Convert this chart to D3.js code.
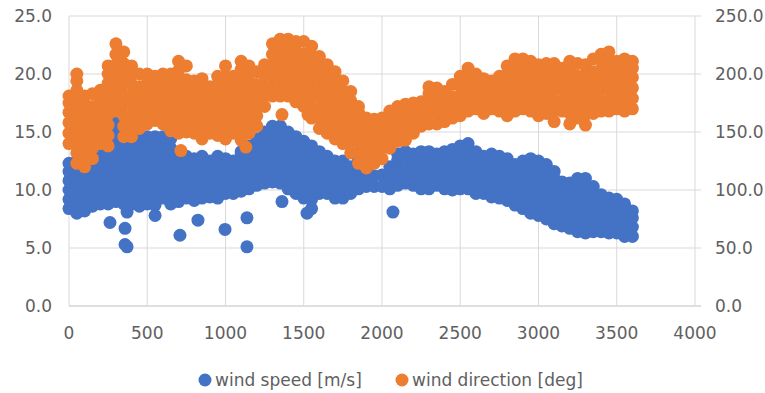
<!DOCTYPE html>
<html>
<head>
<meta charset="utf-8">
<script src="https://cdn.jsdelivr.net/npm/d3@7"></script>
<style>
  html, body { margin: 0; padding: 0; background: #ffffff; }
  svg { display: block; }
  text { font-family: "DejaVu Sans", sans-serif; font-size: 17px; fill: #606060; }
</style>
</head>
<body>
<svg id="chart" width="765" height="393"></svg>
<script>
// ---- data ----
const timeColumns = [0,50,100,150,200,250,300,350,400,450,500,550,600,650,700,750,800,850,900,950,
  1000,1050,1100,1150,1200,1250,1300,1350,1400,1450,1500,1550,1600,1650,1700,1750,1800,1850,1900,1950,
  2000,2050,2100,2150,2200,2250,2300,2350,2400,2450,2500,2550,2600,2650,2700,2750,2800,2850,2900,2950,
  3000,3050,3100,3150,3200,3250,3300,3350,3400,3450,3500,3550,3600];

// wind speed [m/s] values observed at each time column
const speedColumns = [
  [8.4,9.2,10.0,10.8,11.6,12.3],
  [8.0,8.8,9.6,10.4,11.2,12.0,12.5],
  [8.2,9.0,9.8,10.6,11.4,12.1,12.7],
  [8.6,9.4,10.2,11.0,11.8,12.4,12.9],
  [8.8,9.6,10.4,11.2,12.0,12.6,13.1],
  [8.8,9.6,10.4,11.2,12.0,12.7,13.3],
  [9.0,9.8,10.6,11.4,12.2,13.0,13.8,14.6,15.4,16.1],
  [8.8,9.6,10.4,11.2,12.0,12.8,13.6,14.4],
  [8.8,9.6,10.4,11.2,12.0,12.8,13.6,14.6],
  [8.6,9.4,10.2,11.0,11.8,12.6,13.4,14.2,14.6],
  [8.8,9.6,10.4,11.2,12.0,12.8,13.6,14.6],
  [8.7,9.5,10.3,11.1,11.9,12.7,13.5,14.2,14.6],
  [9.3,10.1,10.9,11.7,12.5,13.3,14.0,14.6],
  [8.8,9.6,10.4,11.2,12.0,12.8,13.6,14.4],
  [9.0,9.8,10.6,11.4,12.2,13.2],
  [9.3,10.1,10.9,11.7,12.4,12.9],
  [9.1,9.9,10.7,11.5,12.2,12.7],
  [9.3,10.1,10.9,11.7,12.4,12.9],
  [9.4,10.2,11.0,11.8,12.5],
  [9.3,10.1,10.9,11.7,12.4,12.9],
  [9.7,10.5,11.3,12.0,12.7],
  [9.7,10.5,11.3,12.0,12.5],
  [9.9,10.7,11.5,12.3,13.0,13.3],
  [10.1,10.9,11.7,12.5,13.2,13.8],
  [10.4,11.2,12.0,12.8,13.6,14.4],
  [10.6,11.4,12.2,13.0,13.8,14.5,15.0],
  [10.7,11.5,12.3,13.1,13.9,14.7,15.5],
  [10.6,11.4,12.2,13.0,13.8,14.6,15.5],
  [10.1,10.9,11.7,12.5,13.3,14.1,15.0],
  [9.7,10.5,11.3,12.1,12.9,13.7,14.6],
  [9.3,10.1,10.9,11.7,12.5,13.3,14.2],
  [8.4,9.2,10.0,10.8,11.6,12.4,13.2,13.8],
  [9.7,10.5,11.3,12.1,12.8,13.3],
  [9.7,10.5,11.3,12.1,12.9],
  [9.3,10.1,10.9,11.7,12.5],
  [9.3,10.1,10.9,11.7,12.5],
  [9.7,10.5,11.3,12.0],
  [10.1,10.9,11.7,12.5],
  [10.3,11.1,11.7,12.0],
  [10.3,11.2],
  [10.3,11.3],
  [10.1,10.9,11.6,12.0],
  [10.4,11.2,12.0,12.6,13.1],
  [10.6,11.4,12.2,12.8,13.3],
  [10.4,11.2,12.0,12.6,13.1],
  [10.1,10.9,11.7,12.5,13.3],
  [10.1,10.9,11.7,12.5,13.3],
  [10.4,11.2,12.0,12.6,13.1],
  [10.1,10.9,11.7,12.5,13.3],
  [10.0,10.8,11.6,12.4,13.0,13.5],
  [10.1,10.9,11.7,12.5,13.2,13.8],
  [10.1,10.9,11.7,12.5,13.3,14.0],
  [9.7,10.5,11.3,12.1,12.8,13.3],
  [9.7,10.5,11.3,12.1,12.9],
  [9.4,10.2,11.0,11.8,12.5,13.1],
  [9.3,10.1,10.9,11.7,12.4,12.9],
  [9.1,9.9,10.7,11.5,12.2,12.7],
  [8.7,9.5,10.3,11.1,11.8,12.2],
  [8.4,9.2,10.0,10.8,11.6,12.1,12.5],
  [8.0,8.8,9.6,10.4,11.2,12.0,12.7],
  [7.8,8.6,9.4,10.2,11.0,11.8,12.5],
  [7.5,8.3,9.1,9.9,10.7,11.5,12.2],
  [7.1,7.9,8.7,9.5,10.3,11.0,11.6],
  [6.9,7.7,8.5,9.3,10.1,10.7],
  [6.7,7.5,8.3,9.1,9.9,10.6],
  [6.4,7.2,8.0,8.8,9.6,10.4,11.0],
  [6.3,7.1,7.9,8.7,9.5,10.3,11.0],
  [6.4,7.2,8.0,8.8,9.6,10.3],
  [6.4,7.2,8.0,8.8,9.6],
  [6.3,7.1,7.9,8.7,9.3],
  [6.3,7.1,7.9,8.7,9.2],
  [6.0,6.8,7.6,8.4,8.8],
  [6.0,6.8,7.6,8.2]
];

// wind direction [deg] values observed at each time column
const directionColumns = [
  [140,149,158,167,175,181],
  [123,132,141,150,159,168,177,186,194,200],
  [120,129,138,147,156,165,174,181],
  [127,136,145,154,163,172,183],
  [140,149,158,167,176,186],
  [138,147,156,165,174,183,192,200,207],
  [168,176,184,192,200,208,217,226],
  [146,155,164,173,182,191,200,209,219],
  [146,155,164,173,182,191,199,207],
  [153,162,171,180,189,200],
  [157,166,175,184,192,200],
  [160,168,176,184,192,198],
  [157,166,175,184,192,200],
  [151,160,169,178,187,194,200],
  [149,158,167,176,185,194,203,211],
  [150,159,168,177,186,195,207],
  [149,158,167,176,185,194],
  [144,153,162,171,180,188,196],
  [149,158,167,176,184,189],
  [147,156,165,174,183,191,198],
  [144,153,162,171,180,189,198,207],
  [149,158,167,176,185,192,198],
  [143,152,161,170,179,188,197,204,211],
  [149,158,167,176,185,194,201,207],
  [155,164,173,182,191,202],
  [172,181,190,199,208],
  [181,190,199,208,217,226],
  [181,190,199,208,217,225,230],
  [181,190,199,208,217,225,230],
  [176,185,194,203,212,220,228],
  [172,181,190,199,208,217,228],
  [162,171,180,189,198,207,216,224],
  [153,162,171,180,189,198,207,215],
  [149,158,167,176,185,194,202,208],
  [144,153,162,171,180,189,196,202],
  [140,149,158,167,176,185,194],
  [132,141,150,159,168,177,185],
  [123,132,141,150,159,167,172],
  [119,128,137,146,154,162],
  [123,132,141,150,156,161],
  [127,136,145,154,162],
  [136,145,154,162,168],
  [142,151,160,166,172],
  [143,152,161,168,174],
  [149,158,166,175],
  [155,163,170,176],
  [157,166,175,183,189],
  [157,166,175,182,188],
  [159,167,175,185],
  [162,171,180,191],
  [164,173,182,190,198],
  [168,177,186,195,205],
  [170,178,186,193,200],
  [166,175,184,191,196],
  [170,178,186,194],
  [168,177,186,192,198],
  [164,173,182,191,200,207],
  [168,177,186,195,204,213],
  [170,179,188,197,205,213],
  [168,177,186,195,203,211],
  [164,173,182,191,200,208],
  [166,175,184,193,201,209],
  [159,168,177,186,195,203,209],
  [168,177,186,195,205],
  [157,166,175,184,193,202,211],
  [162,171,180,189,198,209],
  [156,165,174,183,192,200,208],
  [166,175,184,193,202,213],
  [168,177,186,195,204,212,217],
  [168,177,186,195,204,212,219],
  [170,179,188,197,205,211],
  [168,177,186,195,204,213],
  [170,179,188,197,205,211]
];

// isolated points [time, value]
const speedOutliers = [[262,7.2],[358,6.7],[371,8.1],[358,5.3],[371,5.1],[550,7.8],[709,6.1],
  [824,7.4],[997,6.6],[1137,7.6],[1137,5.1],[1361,9.0],[1521,8.0],[2070,8.1]];
const directionOutliers = [[715,134],[1130,137],[1361,165],[1527,165]];

const xTicks = [0,500,1000,1500,2000,2500,3000,3500,4000];
const speedTicks = [0,5,10,15,20,25];
const directionTicks = [0,50,100,150,200,250];
const seriesNames = ["wind speed [m/s]", "wind direction [deg]"];
const seriesColors = ["#4472C4", "#ED7D31"];

// ---- drawing ----
const svg = d3.select("#chart");
const plotLeft = 69, plotRight = 695, plotTop = 16, plotBottom = 306;
const markR = 6.5;

const x = d3.scaleLinear().domain([0, 4000]).range([plotLeft, plotRight]);
const ySpeed = d3.scaleLinear().domain([0, 25]).range([plotBottom, plotTop]);
const yDir = d3.scaleLinear().domain([0, 250]).range([plotBottom, plotTop]);

// gridlines
svg.append("g").selectAll("line").data(speedTicks).join("line")
  .attr("x1", plotLeft).attr("x2", plotRight + 6)
  .attr("y1", d => ySpeed(d)).attr("y2", d => ySpeed(d))
  .attr("stroke", d => d === 0 ? "#bfbfbf" : "#d9d9d9").attr("stroke-width", 1);
svg.append("g").selectAll("line").data(xTicks).join("line")
  .attr("x1", d => x(d)).attr("x2", d => x(d))
  .attr("y1", plotTop).attr("y2", plotBottom)
  .attr("stroke", "#d9d9d9").attr("stroke-width", 1);

// points
const flatten = cols => cols.flatMap((vals, i) => vals.map(v => [timeColumns[i], v]));
const speedPts = flatten(speedColumns).concat(speedOutliers);
const dirPts = flatten(directionColumns).concat(directionOutliers);

svg.append("g").selectAll("circle").data(speedPts).join("circle")
  .attr("cx", d => x(d[0])).attr("cy", d => ySpeed(d[1])).attr("r", markR)
  .attr("fill", seriesColors[0]);
svg.append("g").selectAll("circle").data(dirPts).join("circle")
  .attr("cx", d => x(d[0])).attr("cy", d => yDir(d[1])).attr("r", markR)
  .attr("fill", seriesColors[1]);

// axes labels
svg.append("g").selectAll("text").data(speedTicks).join("text")
  .attr("x", 52).attr("y", d => ySpeed(d)).attr("dy", "0.36em")
  .attr("text-anchor", "end").text(d => d3.format(".1f")(d));
svg.append("g").selectAll("text").data(directionTicks).join("text")
  .attr("x", 715).attr("y", d => yDir(d)).attr("dy", "0.36em")
  .attr("text-anchor", "start").text(d => d3.format(".1f")(d));
svg.append("g").selectAll("text").data(xTicks).join("text")
  .attr("x", d => x(d)).attr("y", 333).attr("dy", "0.36em")
  .attr("text-anchor", "middle").text(d => d);

// legend
const legendX = [205, 402];
const lg = svg.append("g").selectAll("g").data(seriesNames).join("g");
lg.append("circle").attr("cx", (d, i) => legendX[i]).attr("cy", 380).attr("r", 6.5)
  .attr("fill", (d, i) => seriesColors[i]);
lg.append("text").attr("x", (d, i) => legendX[i] + 10).attr("y", 380).attr("dy", "0.36em")
  .text(d => d);
</script>
</body>
</html>
